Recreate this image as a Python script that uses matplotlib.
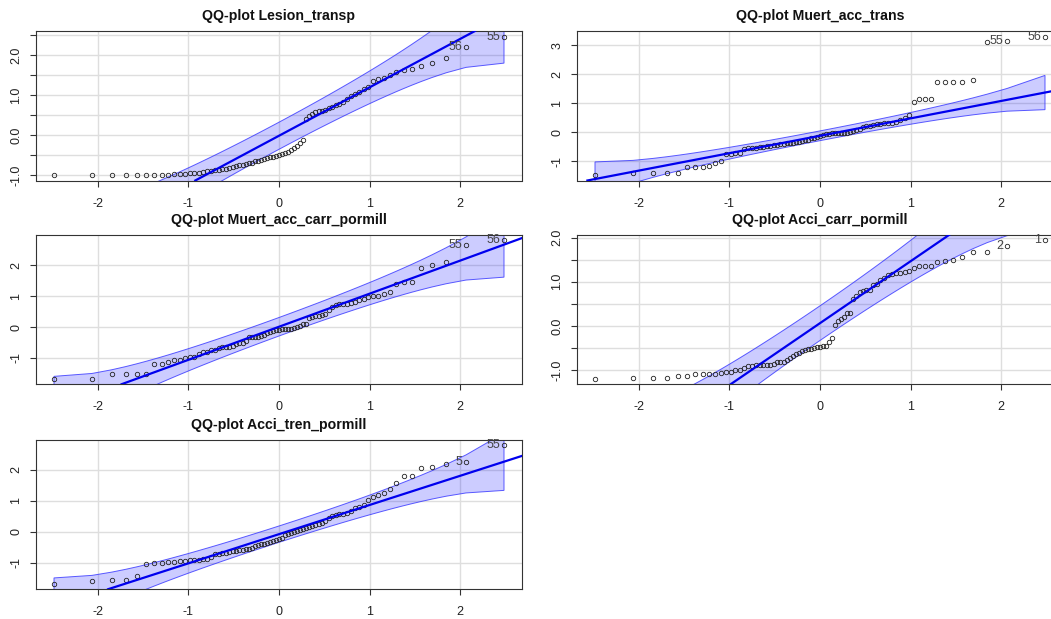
from statistics import NormalDist

import matplotlib
matplotlib.use('Agg')
import matplotlib.pyplot as plt
from matplotlib.ticker import FixedLocator, FuncFormatter
import numpy as np

plt.rcParams['font.family'] = ['Liberation Sans', 'DejaVu Sans']
plt.rcParams['axes.unicode_minus'] = False

# sorted sample values (77 obs. each)
lesion_transp = [
    -0.99, -0.98, -0.98, -0.98, -0.98, -0.98, -0.98, -0.98, -0.98, -0.97,
    -0.96, -0.96, -0.95, -0.94, -0.93, -0.91, -0.90, -0.89, -0.87, -0.86,
    -0.84, -0.83, -0.81, -0.79, -0.77, -0.75, -0.73, -0.71, -0.69, -0.68,
    -0.65, -0.63, -0.61, -0.59, -0.57, -0.55, -0.53, -0.51, -0.49, -0.47,
    -0.44, -0.41, -0.37, -0.32, -0.26, -0.20, -0.12, 0.40, 0.48, 0.54,
    0.58, 0.60, 0.62, 0.64, 0.68, 0.72, 0.75, 0.79, 0.84, 0.92,
    0.98, 1.03, 1.08, 1.16, 1.21, 1.37, 1.40, 1.44, 1.50, 1.58,
    1.64, 1.66, 1.74, 1.80, 1.94, 2.21, 2.47]
muert_acc_trans = [
    -1.47, -1.39, -1.39, -1.39, -1.39, -1.18, -1.18, -1.18, -1.16, -1.05,
    -0.99, -0.76, -0.75, -0.72, -0.71, -0.56, -0.55, -0.54, -0.53, -0.52,
    -0.50, -0.48, -0.47, -0.45, -0.43, -0.41, -0.40, -0.38, -0.37, -0.36,
    -0.35, -0.33, -0.30, -0.28, -0.25, -0.21, -0.18, -0.16, -0.14, -0.10,
    -0.07, -0.05, -0.04, -0.04, -0.04, -0.04, -0.03, -0.02, 0.00, 0.03,
    0.08, 0.12, 0.18, 0.21, 0.22, 0.24, 0.27, 0.30, 0.31, 0.31,
    0.32, 0.36, 0.42, 0.50, 0.61, 1.06, 1.14, 1.14, 1.14, 1.75,
    1.75, 1.75, 1.75, 1.81, 3.12, 3.13, 3.30]
muert_acc_carr_pormill = [
    -1.67, -1.67, -1.52, -1.52, -1.52, -1.52, -1.20, -1.20, -1.13, -1.05,
    -1.05, -0.99, -0.97, -0.96, -0.88, -0.81, -0.81, -0.74, -0.74, -0.67,
    -0.66, -0.66, -0.65, -0.61, -0.55, -0.51, -0.51, -0.45, -0.33, -0.33,
    -0.32, -0.31, -0.28, -0.25, -0.19, -0.16, -0.12, -0.09, -0.08, -0.07,
    -0.05, -0.05, -0.05, -0.03, 0.00, 0.03, 0.09, 0.10, 0.29, 0.32,
    0.36, 0.36, 0.38, 0.42, 0.55, 0.66, 0.70, 0.74, 0.75, 0.76,
    0.78, 0.82, 0.86, 0.92, 0.98, 1.00, 1.01, 1.07, 1.14, 1.38,
    1.45, 1.46, 1.92, 2.00, 2.10, 2.66, 2.81]
acci_carr_pormill = [
    -1.19, -1.18, -1.18, -1.17, -1.13, -1.12, -1.09, -1.09, -1.09, -1.08,
    -1.06, -1.04, -1.04, -1.00, -0.99, -0.96, -0.91, -0.90, -0.89, -0.88,
    -0.875, -0.87, -0.87, -0.86, -0.82, -0.82, -0.81, -0.76, -0.72, -0.68,
    -0.64, -0.61, -0.57, -0.54, -0.53, -0.52, -0.50, -0.48, -0.475, -0.46,
    -0.445, -0.36, -0.27, 0.03, 0.11, 0.17, 0.20, 0.29, 0.30, 0.62,
    0.69, 0.77, 0.79, 0.81, 0.82, 0.92, 0.94, 1.05, 1.09, 1.16,
    1.185, 1.20, 1.21, 1.215, 1.245, 1.31, 1.35, 1.35, 1.35, 1.45,
    1.47, 1.50, 1.56, 1.67, 1.67, 1.80, 1.94]
acci_tren_pormill = [
    -1.67, -1.57, -1.54, -1.54, -1.42, -1.05, -1.02, -1.00, -0.98, -0.96,
    -0.95, -0.94, -0.92, -0.91, -0.90, -0.89, -0.88, -0.80, -0.73, -0.72,
    -0.69, -0.67, -0.65, -0.63, -0.61, -0.59, -0.57, -0.56, -0.555, -0.53,
    -0.45, -0.42, -0.40, -0.38, -0.35, -0.32, -0.30, -0.25, -0.23, -0.21,
    -0.10, -0.06, -0.03, 0.00, 0.03, 0.06, 0.085, 0.12, 0.16, 0.19,
    0.21, 0.26, 0.30, 0.34, 0.45, 0.51, 0.53, 0.56, 0.565, 0.62,
    0.67, 0.78, 0.81, 0.88, 1.01, 1.13, 1.19, 1.26, 1.39, 1.58,
    1.79, 1.79, 2.07, 2.09, 2.19, 2.25, 2.79]

titles = ['QQ-plot Lesion_transp', 'QQ-plot Muert_acc_trans',
          'QQ-plot Muert_acc_carr_pormill', 'QQ-plot Acci_carr_pormill',
          'QQ-plot Acci_tren_pormill']
series = [lesion_transp, muert_acc_trans, muert_acc_carr_pormill,
          acci_carr_pormill, acci_tren_pormill]
# robust line (intercept, slope)
line_int = [-0.01, -0.12, 0.01, 0.065, -0.075]
line_slope = [1.21, 0.60, 1.07, 1.40, 0.94]
# row names of the two labelled points (second largest, largest)
id_labels = [['56', '55'], ['55', '56'], ['55', '56'], ['2', '1'], ['5', '55']]
ytick_step = [0.5, 1, 1, 0.5, 1]
ytick_decimals = [1, 0, 0, 1, 0]
xticks = [-2, -1, 0, 1, 2]

W, H = 1051, 619
# axes boxes in pixels: left, top
boxes = [(36, 31), (577, 31), (36, 234.7), (577, 234.7), (36, 439.7)]
bw, bh = 486, 149.5

fig = plt.figure(figsize=(W / 100, H / 100), dpi=100)
nd = NormalDist()

for k in range(5):
    left, top = boxes[k]
    ax = fig.add_axes([left / W, 1 - (top + bh) / H, bw / W, bh / H])
    y = np.array(series[k])
    n = len(y)
    p = (np.arange(1, n + 1) - 0.5) / n
    z = np.array([nd.inv_cdf(v) for v in p])
    a, b = line_int[k], line_slope[k]

    # pointwise 95% envelope, as car::qqPlot
    fit = a + b * z
    dens = np.array([nd.pdf(v) for v in z])
    se = (b / dens) * np.sqrt(p * (1 - p) / n)
    upper = fit + 1.96 * se
    lower = fit - 1.96 * se

    ax.fill(np.r_[z, z[::-1]], np.r_[upper, lower[::-1]],
            facecolor=(0, 0, 1, 0.2), edgecolor=(0.2, 0.2, 1, 0.8), lw=0.7, zorder=2)
    ax.plot(z, y, 'o', mfc='none', mec='#222222', ms=3.2, mew=0.6, zorder=3)
    ax.axline((0, a), slope=b, color='#0000ee', lw=1.6, zorder=4)

    for j, lab in zip([n - 2, n - 1], id_labels[k]):
        ax.annotate(lab, (z[j], y[j]), xytext=(-2.5, 0), textcoords='offset points',
                    ha='right', va='center', fontsize=9, color='#444444', zorder=5)

    # R style limits: data range + 4%
    xr = z.max() - z.min()
    ax.set_xlim(z.min() - 0.04 * xr, z.max() + 0.04 * xr)
    yr = y.max() - y.min()
    ylo, yhi = y.min() - 0.04 * yr, y.max() + 0.04 * yr
    ax.set_ylim(ylo, yhi)

    step = ytick_step[k]
    yt = np.arange(np.ceil(ylo / step) * step, yhi + 1e-9, step)
    dec = ytick_decimals[k]

    def fmt(v, pos, dec=dec):
        if abs(v - round(v)) > 1e-6:
            return ''
        return f'{v:.{dec}f}' if dec else f'{int(round(v))}'

    ax.yaxis.set_major_locator(FixedLocator(yt))
    ax.yaxis.set_major_formatter(FuncFormatter(fmt))
    ax.set_xticks(xticks)
    ax.set_xticklabels([str(v) for v in xticks])

    ax.grid(True, color='#dedede', lw=1.0, zorder=0)
    ax.set_axisbelow(True)
    for s in ax.spines.values():
        s.set_color('#333333')
        s.set_linewidth(0.8)
    ax.tick_params(direction='out', length=4.3, width=0.8, color='#333333',
                   labelsize=9, labelcolor='#222222')
    ax.tick_params(axis='x', pad=8)
    ax.tick_params(axis='y', pad=5.5)
    for t in ax.get_yticklabels():
        t.set_rotation(90)
        t.set_va('center')
        t.set_ha('right')

    ax.text(0.5, 1 + 15 / bh, titles[k], transform=ax.transAxes, ha='center',
            va='center', fontsize=10.2, fontweight='bold', color='#111111')

fig.savefig('out.png', dpi=100, facecolor='white')
